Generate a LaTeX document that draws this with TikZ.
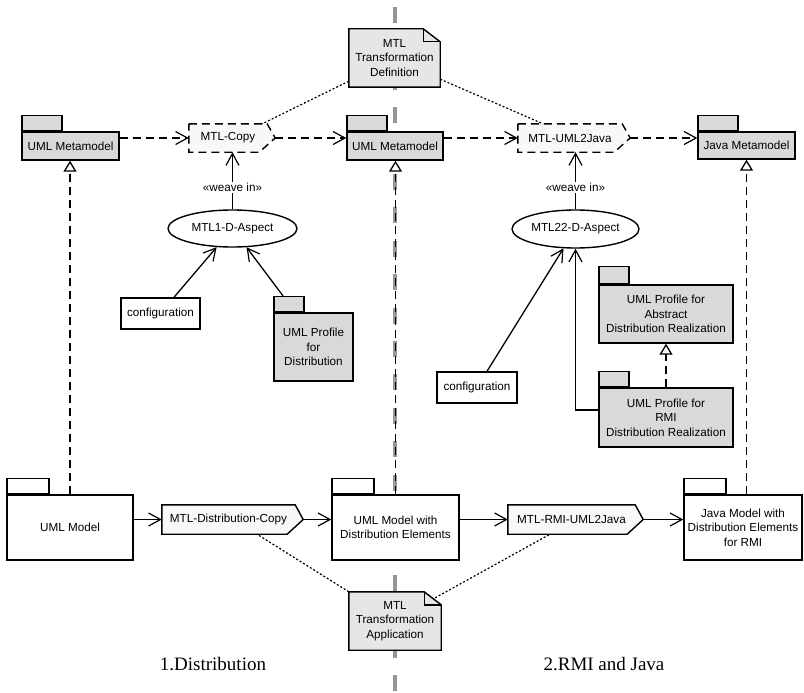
\documentclass[tikz,border=0pt]{standalone}
\usepackage{fontspec}
\setmainfont{Liberation Sans}
\newfontfamily\captionserif{Liberation Serif}
\usetikzlibrary{arrows.meta,calc,shapes.geometric,backgrounds}

\definecolor{pkgfill}{RGB}{217,217,217}
\definecolor{notefill}{RGB}{230,230,230}
\definecolor{xformfill}{RGB}{248,248,248}
\definecolor{sepgray}{RGB}{150,150,150}

\pgfdeclarelayer{separator}
\pgfsetlayers{separator,background,main}

\tikzset{
  txt/.style={font=\fontsize{11.7}{14.5}\selectfont, align=center, inner sep=0pt},
  box/.style={txt, draw, line width=1.4pt, fill=white},
  pkg/.style={box, fill=pkgfill},
  model/.style={box, fill=white},
  pkgtab/.style={draw, line width=1.4pt, inner sep=0pt, anchor=south west, minimum height=15pt},
  note/.style={txt, minimum height=58pt},
  xform/.style={txt},
  aspect/.style={txt, draw, ellipse, line width=1.4pt, fill=white},
  caption/.style={font=\captionserif\fontsize{19}{22}\selectfont, inner sep=0pt},
  solidline/.style={line width=1.3pt},
  dashline/.style={line width=1.3pt, dash pattern=on 8pt off 5pt},
  dotline/.style={line width=1.2pt, dash pattern=on 2pt off 2pt},
  open/.style={-{Straight Barb[length=12pt,width=13pt,line width=1.2pt]}},
  realize/.style={dashline, -{Triangle[open,length=11pt,width=13pt,fill=white]}},
  outline/.style={draw, line width=1.4pt, line join=miter},
}

% outline of a transformation: a box whose right side ends in an arrow point
\newcommand\xformshape[2]{%
  \path[outline, fill=xformfill, #2] (#1.north west) -- (#1.north east)
    -- ($(#1.east)+(8,0)$) -- ($(#1.south east)+(-8,0)$)
    -- (#1.south west) -- cycle;}
% outline of a note with a folded corner
\newcommand\noteshape[1]{%
  \path[outline, fill=notefill] (#1.north west) -- ($(#1.north east)+(-17,0)$)
    -- ($(#1.north east)+(0,13)$) -- (#1.south east) -- (#1.south west) -- cycle;}
\newcommand\notefold[1]{%
  \draw[line width=1.4pt] ($(#1.north east)+(-17,0)$) -- ($(#1.north east)+(-17,13)$)
    -- ($(#1.north east)+(0,13)$);}

\begin{document}
\begin{tikzpicture}[x=1pt,y=-1pt]
\useasboundingbox (0,0) rectangle (804,693);

% ---------- separator between the two steps ----------
\coordinate (septop) at (395,7);
\coordinate (sepbot) at (395,693);
\begin{pgfonlayer}{separator}
  \draw[sepgray, line width=3.5pt, dash pattern=on 16pt off 17.4pt] (septop) -- (sepbot);
\end{pgfonlayer}

% ---------- metamodels ----------
\node[pkg, minimum width=97pt, minimum height=28pt] (mm1) at (70.5,146) {UML Metamodel};
\node[pkgtab, fill=pkgfill, minimum width=40pt] (mm1tab) at (mm1.north west) {};
\node[pkg, minimum width=96pt, minimum height=28pt] (mm2) at (395,146) {UML Metamodel};
\node[pkgtab, fill=pkgfill, minimum width=40pt] (mm2tab) at (mm2.north west) {};
\node[pkg, minimum width=97pt, minimum height=27pt] (mmj) at (746.5,145.5) {Java Metamodel};
\node[pkgtab, fill=pkgfill, minimum width=40pt] (mmjtab) at (mmj.north west) {};

% ---------- transformations ----------
\node[xform, minimum width=78pt, minimum height=28pt] (copy) at (228,138) {MTL-Copy};
\node[xform, minimum width=104pt, minimum height=28pt] (u2j) at (570,138) {MTL-UML2Java};
\node[xform, minimum width=133pt, minimum height=29pt] (dcopy) at (228.5,519.5) {MTL-Distribution-Copy};
\node[xform, minimum width=127pt, minimum height=29pt] (drmi) at (571.5,519.5) {MTL-RMI-UML2Java};
\coordinate (copytip) at ($(copy.east)+(8,0)$);
\coordinate (u2jtip) at ($(u2j.east)+(8,0)$);
\coordinate (dcopytip) at ($(dcopy.east)+(8,0)$);
\coordinate (drmitip) at ($(drmi.east)+(8,0)$);
\begin{pgfonlayer}{background}
  \xformshape{copy}{dash pattern=on 8pt off 5pt}
  \xformshape{u2j}{dash pattern=on 8pt off 5pt}
  \xformshape{dcopy}{}
  \xformshape{drmi}{}
\end{pgfonlayer}

% ---------- aspects ----------
\node[aspect, minimum width=129pt, minimum height=37pt] (e1) at (232.5,228.5) {MTL1-D-Aspect};
\node[aspect, minimum width=127pt, minimum height=38pt] (e2) at (575.5,229) {MTL22-D-Aspect};

% ---------- configurations and profiles ----------
\node[box, minimum width=79pt, minimum height=31pt] (c1) at (160.5,313.5) {configuration};
\node[box, minimum width=80pt, minimum height=31pt] (c2) at (477,387.5) {configuration};

\node[pkg, minimum width=79pt, minimum height=68pt] (prof1) at (313.5,347) {UML Profile\\for\\Distribution};
\node[pkgtab, fill=pkgfill, minimum width=30pt] (prof1tab) at (prof1.north west) {};
\node[pkg, minimum width=134pt, minimum height=58pt] (profA) at (666,314) {UML Profile for\\Abstract\\Distribution Realization};
\node[pkgtab, fill=pkgfill, minimum width=30pt, minimum height=17pt] (profAtab) at (profA.north west) {};
\node[pkg, minimum width=134pt, minimum height=59pt] (profR) at (666,417.5) {UML Profile for\\RMI\\Distribution Realization};
\node[pkgtab, fill=pkgfill, minimum width=30pt] (profRtab) at (profR.north west) {};

% ---------- models ----------
\node[model, minimum width=126pt, minimum height=65pt] (umlmodel) at (70,527.5) {UML Model};
\node[pkgtab, fill=white, minimum width=42pt] (umlmodeltab) at (umlmodel.north west) {};
\node[model, minimum width=127pt, minimum height=65pt] (umldist) at (395.5,527.5) {UML Model with\\Distribution Elements};
\node[pkgtab, fill=white, minimum width=42pt] (umldisttab) at (umldist.north west) {};
\node[model, minimum width=118pt, minimum height=65pt] (javamodel) at (743,527.5) {Java Model with\\Distribution Elements\\for RMI};
\node[pkgtab, fill=white, minimum width=42pt] (javamodeltab) at (javamodel.north west) {};

% ---------- notes ----------
\node[note, minimum width=91pt] (note1) at (394.5,58) {MTL\\Transformation\\Definition};
\node[note, minimum width=92pt] (note2) at (395,621) {MTL\\Transformation\\Application};
\begin{pgfonlayer}{background}
  \noteshape{note1}
  \noteshape{note2}
\end{pgfonlayer}
\notefold{note1}
\notefold{note2}

% ---------- captions ----------
\node[caption] (cap1) at (213,664) {1.Distribution};
\node[caption] (cap2) at (604,664) {2.RMI and Java};

% ---------- metamodel level transformations ----------
\draw[dashline, open] (copy.west -| mm1.east) -- (copy.west);
\draw[dashline, open] (copytip) -- (copytip -| mm2.west);
\draw[dashline, open] (u2j.west -| mm2.east) -- (u2j.west);
\draw[dashline, open] (u2jtip) -- (u2jtip -| mmj.west);

% ---------- aspects woven into the transformations ----------
\draw[solidline, open] (e1.north) -- (e1.north |- copy.south)
  node[txt, pos=0.38, fill=white, inner sep=1.5pt] (w1) {«weave in»};
\draw[solidline, open] (e2.north) -- (e2.north |- u2j.south)
  node[txt, pos=0.38, fill=white, inner sep=1.5pt] (w2) {«weave in»};

% ---------- aspect inputs ----------
\draw[solidline, open] ([xshift=13.5pt]c1.north) -- (e1);
\draw[solidline, open] ([xshift=-6pt]prof1tab.north) -- (e1);
\draw[solidline, open] ([xshift=10pt]c2.north) -- (e2);
\draw[solidline, open] ([yshift=7.5pt]profR.west) -| (e2.south);
\draw[realize] (profR.north) -- (profA.south);

% ---------- instance-of relations ----------
\draw[realize] (umlmodel.north) -- (umlmodel.north |- mm1.south);
\draw[realize] (umldist.north) -- (umldist.north |- mm2.south);
\draw[realize] (mmj.south |- javamodel.north) -- (mmj.south);

% ---------- model level transformations ----------
\draw[solidline, open] (dcopy.west -| umlmodel.east) -- (dcopy.west);
\draw[solidline, open] (dcopytip) -- (dcopytip -| umldist.west);
\draw[solidline, open] (drmi.west -| umldist.east) -- (drmi.west);
\draw[solidline, open] (drmitip) -- (drmitip -| javamodel.west);

% ---------- note attachments ----------
\draw[dotline] ([yshift=6pt]note1.south west) -- ([xshift=-5pt]copy.north east);
\draw[dotline] ([yshift=8pt]note1.south east) -- ([xshift=-27pt]u2j.north);
\draw[dotline] (note2.north west) -- ([xshift=28.5pt]dcopy.south);
\draw[dotline] ([xshift=-6pt,yshift=-6pt]note2.north east) -- ([xshift=-21.5pt]drmi.south);
\end{tikzpicture}
\end{document}
